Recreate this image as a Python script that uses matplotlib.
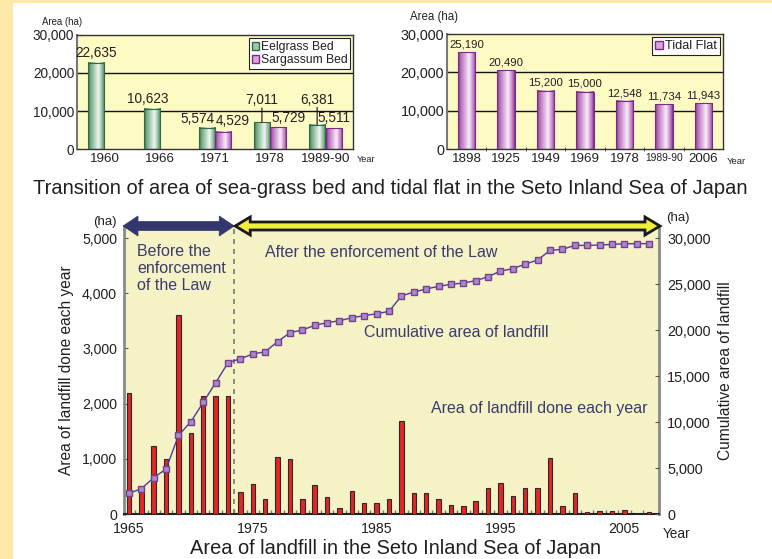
import numpy as np
import matplotlib
matplotlib.use('Agg')
import matplotlib.pyplot as plt
from matplotlib import font_manager
from matplotlib.patches import Polygon, Rectangle, Patch
from matplotlib.transforms import IdentityTransform
from matplotlib.colors import LinearSegmentedColormap

# ---------------- data ----------------
seagrass_years = ['1960', '1966', '1971', '1978', '1989-90']
eelgrass = [22635, 10623, 5574, 7011, 6381]
sargassum = [np.nan, np.nan, 4529, 5729, 5511]

tidal_years = ['1898', '1925', '1949', '1969', '1978', '1989-90', '2006']
tidal_flat = [25190, 20490, 15200, 15000, 12548, 11734, 11943]

landfill_years = list(range(1965, 2008))
landfill_annual = [2200, 430, 1230, 1000, 3600, 1470, 2130, 2130, 2130, 390,
                   540, 280, 1040, 990, 280, 530, 300, 100, 420, 205,
                   205, 270, 1690, 385, 375, 270, 165, 145, 235, 465,
                   555, 325, 465, 465, 1020, 145, 385, 36, 48, 48,
                   67, 8, 30]
landfill_cumulative = [2250, 2750, 3950, 4900, 8550, 10030, 12140, 14270, 16450, 16880,
                       17390, 17640, 18730, 19710, 20000, 20510, 20800, 21010, 21340, 21560,
                       21770, 22030, 23700, 24130, 24460, 24750, 24970, 25110, 25360, 25800,
                       26410, 26670, 27170, 27610, 28660, 28770, 29200, 29200, 29240, 29310,
                       29380, 29380, 29400]
landfill_xticks = [1965, 1975, 1985, 1995, 2005]
law_year = 1973.5

# ---------------- fonts ----------------
available = {f.name for f in font_manager.fontManager.ttflist}
REG = 'Liberation Sans' if 'Liberation Sans' in available else 'DejaVu Sans'
plt.rcParams['font.family'] = [REG, 'DejaVu Sans']

TXT = '#231f20'
NAVY_TXT = '#3b3b6d'

W, H = 772, 559
fig = plt.figure(figsize=(W / 100, H / 100), dpi=100)
fig.patch.set_facecolor('white')

def px_rect(l, t, r, b):
    return [l / W, 1 - b / H, (r - l) / W, (b - t) / H]

# background strips
fig.add_artist(Rectangle((0, 0), 13 / W, 1, transform=fig.transFigure,
                         facecolor='#fce9a8', edgecolor='none', zorder=-10))
fig.add_artist(Rectangle((0, 1 - 3 / H), 1, 3 / H, transform=fig.transFigure,
                         facecolor='#fce9a8', edgecolor='none', zorder=-10))

grad = np.linspace(0, 1, 128).reshape(1, -1)
def gcmap(dark, mid, light):
    return LinearSegmentedColormap.from_list('g', [(0, dark), (0.15, mid), (0.62, light), (0.9, mid), (1, dark)])
GREEN = gcmap('#2f6b45', '#6fa883', '#f2f8f2')
PURPLE = gcmap('#7a2c84', '#b56cba', '#fcecfc')

def gradient_bars(ax, xs, hs, width, cmap, edge):
    for x, h in zip(xs, hs):
        if not np.isfinite(h):
            continue
        ax.imshow(grad, cmap=cmap, extent=(x - width / 2, x + width / 2, 0, h),
                  aspect='auto', zorder=2, interpolation='bilinear')
    ax.bar(xs, hs, width=width, facecolor='none', edgecolor=edge, linewidth=0.8, zorder=3)

def style_top(ax):
    ax.set_facecolor('#fefac4')
    for s in ax.spines.values():
        s.set_color('#333333')
        s.set_linewidth(1.0)
    ax.spines['left'].set_color('#777777')
    ax.spines['left'].set_linewidth(1.5)
    ax.set_ylim(0, 30000)
    ax.set_yticks([0, 10000, 20000, 30000])
    ax.set_yticklabels(['0', '10,000', '20,000', '30,000'])
    for v in (10000, 20000):
        ax.axhline(v, color='#111111', lw=1.0, zorder=1)
    ax.tick_params(axis='y', length=3, direction='in', pad=2, colors=TXT)
    ax.tick_params(axis='x', length=0, pad=3, colors=TXT)

# ---------------- top-left: sea-grass ----------------
ax1 = fig.add_axes(px_rect(77, 35, 353, 149))
style_top(ax1)
g = np.arange(len(seagrass_years))
bw = 0.29
gradient_bars(ax1, g - 0.15, eelgrass, bw, GREEN, '#2f6b45')
gradient_bars(ax1, g + 0.15, sargassum, bw, PURPLE, '#7a2c84')
ax1.set_xlim(-0.5, 4.5)
ax1.set_ylim(0, 30000)
ax1.set_xticks(g)
ax1.set_xticklabels(seagrass_years)
for lab in ax1.get_yticklabels():
    lab.set(fontsize=9.8)
for lab in ax1.get_xticklabels():
    lab.set(fontsize=9.6)

# value labels: (dx, dy) in points; leader line when raised
eel_off = [(0, 2), (-3, 2), (-7, 1.5), (0, 15.8), (0, 18)]
sar_off = [None, None, (7, 2.5), (7, 1.5), (0, 2)]
for i in g:
    dx, dy = eel_off[i]
    ax1.annotate(f'{eelgrass[i]:,}', (i - 0.15, eelgrass[i]), xytext=(dx, dy),
                 textcoords='offset points', ha='center',
                 va='center' if dy > 10 else 'bottom',
                 fontsize=9.8, color=TXT)
    if dy > 10:
        ax1.annotate('', (i - 0.15, eelgrass[i]), xytext=(0, dy - 5.5), textcoords='offset points',
                     arrowprops=dict(arrowstyle='-', color='#111111', lw=0.8, shrinkA=0, shrinkB=0))
    if np.isfinite(sargassum[i]):
        dx, dy = sar_off[i]
        ax1.annotate(f'{int(sargassum[i]):,}', (i + 0.15, sargassum[i]), xytext=(dx, dy),
                     textcoords='offset points', ha='center', va='bottom',
                     fontsize=9.8, color=TXT)

leg1 = ax1.legend(handles=[Patch(facecolor='#9cc8a8', edgecolor='#2f6b45', label='Eelgrass Bed'),
                           Patch(facecolor='#d9a3dc', edgecolor='#7a2c84', label='Sargassum Bed')],
                  loc='upper right', bbox_to_anchor=(0.995, 0.985), frameon=True, fancybox=False,
                  framealpha=1, edgecolor='#222222', borderpad=0.25, labelspacing=0.1,
                  handlelength=0.6, handleheight=0.6, handletextpad=0.15, borderaxespad=0.1,
                  prop=font_manager.FontProperties(family=REG, size=8.7))
leg1.get_frame().set_linewidth(0.8)
for t in leg1.get_texts():
    t.set_color(TXT)
fig.text(42 / W, 1 - 22 / H, 'Area (ha)', fontsize=6.9, color=TXT, va='center', ha='left')
fig.text(357 / W, 1 - 160 / H, 'Year', fontsize=6.6, color=TXT, va='center', ha='left')

# ---------------- top-right: tidal flat ----------------
ax2 = fig.add_axes(px_rect(447, 34, 723, 149))
style_top(ax2)
t = np.arange(len(tidal_years))
gradient_bars(ax2, t, tidal_flat, 0.44, PURPLE, '#7a2c84')
ax2.set_xlim(-0.5, len(tidal_years) - 0.5)
ax2.set_ylim(0, 30000)
ax2.set_xticks(t)
ax2.set_xticklabels(tidal_years)
ax2.set_xticks(t[:-1] + 0.5, minor=True)
ax2.tick_params(axis='x', which='minor', length=3, direction='inout', color='#333333')
for lab in ax2.get_yticklabels():
    lab.set(fontsize=10.4)
for lab, yr in zip(ax2.get_xticklabels(), tidal_years):
    lab.set(fontsize=7.4 if '-' in yr else 9.6)
for i in t:
    ax2.annotate(f'{tidal_flat[i]:,}', (i, tidal_flat[i]), xytext=(0, 2),
                 textcoords='offset points', ha='center', va='bottom',
                 fontsize=8.2, color=TXT)
leg2 = ax2.legend(handles=[Patch(facecolor='#d9a3dc', edgecolor='#7a2c84', label='Tidal Flat')],
                  loc='upper right', bbox_to_anchor=(0.995, 0.985), frameon=True, fancybox=False,
                  framealpha=1, edgecolor='#222222', borderpad=0.25,
                  handlelength=0.6, handleheight=0.6, handletextpad=0.2, borderaxespad=0.1,
                  prop=font_manager.FontProperties(family=REG, size=9.2))
leg2.get_frame().set_linewidth(0.8)
for tt in leg2.get_texts():
    tt.set_color(TXT)
fig.text(410 / W, 1 - 17 / H, 'Area (ha)', fontsize=8.3, color=TXT, va='center', ha='left')
fig.text(727 / W, 1 - 162 / H, 'Year', fontsize=6.8, color=TXT, va='center', ha='left')

fig.text(390 / W, 1 - 188 / H,
         'Transition of area of sea-grass bed and tidal flat in the Seto Inland Sea of Japan',
         fontsize=14.5, color=TXT, ha='center', va='center')

# ---------------- bottom: landfill ----------------
ax3 = fig.add_axes(px_rect(124, 227, 659, 514))
ax3.set_facecolor('#f5f3c6')
ax3.bar(landfill_years, landfill_annual, width=0.36, color='#e42526',
        edgecolor='#2a2a2a', linewidth=0.8, zorder=3)
ax3.set_xlim(1964.6, 2007.8)
ax3.set_ylim(0, 5200)
ax3.set_yticks([0, 1000, 2000, 3000, 4000, 5000])
ax3.set_yticklabels(['0', '1,000', '2,000', '3,000', '4,000', '5,000'])
ax3.set_xticks(landfill_xticks)
ax3.set_xticklabels([str(y) for y in landfill_xticks])
ax3.set_xticks(np.array(landfill_years[:-1]) + 0.5, minor=True)
ax3.tick_params(axis='x', which='major', length=0, pad=6, colors=TXT)
ax3.tick_params(axis='x', which='minor', length=3, direction='in', color='#777777', width=1)
ax3.tick_params(axis='y', length=3, direction='in', pad=5, colors=TXT, color='#555555')
for s in ('left', 'right'):
    ax3.spines[s].set_color('#8a8a8a')
    ax3.spines[s].set_linewidth(2)
ax3.spines['bottom'].set_color('#222222')
ax3.spines['bottom'].set_linewidth(1.5)
ax3.spines['top'].set_visible(False)
ax3.axvline(law_year, color='#777777', lw=1.2, ls=(0, (3, 3)), zorder=2)
for lab in ax3.get_yticklabels():
    lab.set(fontsize=10.2)
for lab in ax3.get_xticklabels():
    lab.set(fontsize=10.2)
ax3.set_ylabel('Area of landfill done each year', fontsize=11.2, color=TXT, labelpad=6)

ax4 = ax3.twinx()
ax4.plot(landfill_years, landfill_cumulative, color='#4b3c99', lw=1.0, marker='s',
         markersize=5, markerfacecolor='#a58bc8', markeredgecolor='#7a3d8f',
         markeredgewidth=1.0, zorder=5)
ax4.set_ylim(0, 31200)
ax4.set_yticks(range(0, 30001, 5000))
ax4.set_yticklabels(['0', '5,000', '10,000', '15,000', '20,000', '25,000', '30,000'])
ax4.tick_params(axis='y', length=3, direction='in', pad=6, colors=TXT, color='#555555')
for lab in ax4.get_yticklabels():
    lab.set(fontsize=10.4)
for s in ax4.spines.values():
    s.set_visible(False)
ax4.set_ylabel('Cumulative area of landfill', fontsize=11.2, color=TXT, labelpad=5)

# annotations in bottom chart
ax3.text(1965.65, 4900, 'Before the\nenforcement\nof the Law', fontsize=11.5, color=NAVY_TXT,
         ha='left', va='top', linespacing=1.2)
ax3.text(1976.0, 4730, 'After the enforcement of the Law', fontsize=11.5, color=NAVY_TXT,
         ha='left', va='center')
ax3.text(1984.0, 3280, 'Cumulative area of landfill', fontsize=11.5, color=NAVY_TXT,
         ha='left', va='center')
ax3.text(1989.35, 1920, 'Area of landfill done each year', fontsize=11.5, color=NAVY_TXT,
         ha='left', va='center')

fig.text(105 / W, 1 - 222 / H, '(ha)', fontsize=9.5, color=TXT, ha='center', va='center')
fig.text(678 / W, 1 - 218 / H, '(ha)', fontsize=9.5, color=TXT, ha='center', va='center')
fig.text(663 / W, 1 - 534 / H, 'Year', fontsize=9.8, color=TXT, ha='left', va='center')
fig.text(395 / W, 1 - 548 / H, 'Area of landfill in the Seto Inland Sea of Japan',
         fontsize=14.4, color=TXT, ha='center', va='center')

# period arrows (display coordinates)
def darrow(x0, x1, y, t, h, L, **kw):
    pts = [(x0, y), (x0 + L, y + h), (x0 + L, y + t), (x1 - L, y + t), (x1 - L, y + h),
           (x1, y), (x1 - L, y - h), (x1 - L, y - t), (x0 + L, y - t), (x0 + L, y - h)]
    fig.add_artist(Polygon(pts, closed=True, transform=IdentityTransform(), **kw))

xl = ax3.transAxes.transform((0, 1))
xr = ax3.transAxes.transform((1, 1))
xm = ax3.transData.transform((law_year, 0))[0]
ytop = xl[1] + 1
darrow(xl[0] - 1, xm, ytop, 4.5, 10, 15, facecolor='#34366e', edgecolor='#34366e', lw=0.5, zorder=10)
darrow(xm + 1, xr[0] + 1, ytop, 4, 9, 15, facecolor='#eef03a', edgecolor='#1a1a1a', lw=2, zorder=10)

fig.savefig('out.png', dpi=100)
